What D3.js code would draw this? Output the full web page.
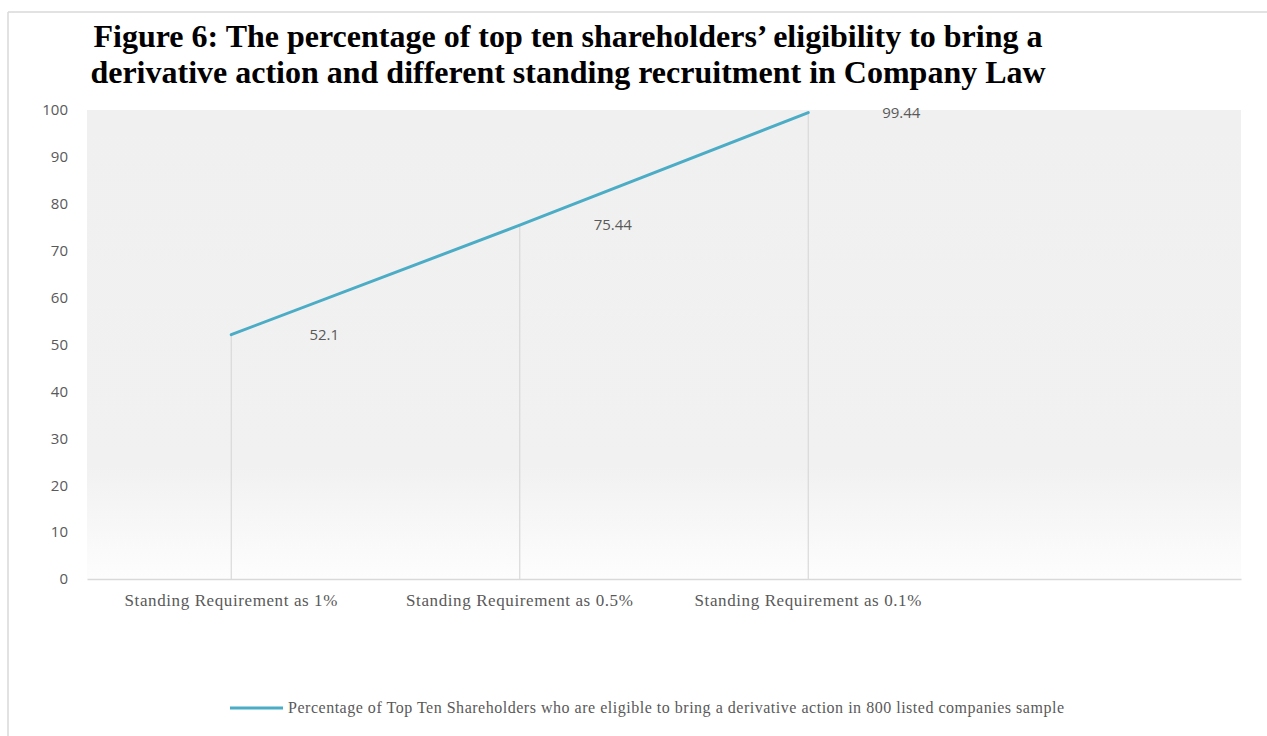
<!DOCTYPE html>
<html>
<head>
<meta charset="utf-8">
<script src="https://cdn.jsdelivr.net/npm/d3@7"></script>
<style>
  html, body { margin: 0; padding: 0; background: #ffffff; }
  svg { display: block; }
</style>
</head>
<body>
<svg id="chart" width="1267" height="736"></svg>
<script>
// Category slots along the x axis (the last slot is left blank)
const categories = [
  "Standing Requirement as 1%",
  "Standing Requirement as 0.5%",
  "Standing Requirement as 0.1%",
  ""
];
// Share of top ten shareholders eligible at each standing requirement (%)
const eligibleShare = [52.1, 75.44, 99.44];
const yTicks = [0, 10, 20, 30, 40, 50, 60, 70, 80, 90, 100];
const titleLines = [
  "Figure 6: The percentage of top ten shareholders\u2019 eligibility to bring a",
  "derivative action and different standing recruitment in Company Law"
];
const seriesName = "Percentage of Top Ten Shareholders who are eligible to bring a derivative action in 800 listed companies sample";

const svg = d3.select("#chart");
const W = 1267, H = 736;
const plot = { left: 87, right: 1241, top: 110, bottom: 579 };

const lineColor = "#4bacc6";
const textColor = "#595959";
const ruleColor = "#d9d9d9";
const serif = "'Liberation Serif', 'Times New Roman', serif";
const sans = "'Open Sans', 'Noto Sans', sans-serif";

// Outer frame (top and left edges)
svg.append("line").attr("x1", 8).attr("x2", W).attr("y1", 12).attr("y2", 12)
  .attr("stroke", ruleColor).attr("stroke-width", 1.5);
svg.append("line").attr("x1", 8).attr("x2", 8).attr("y1", 12).attr("y2", H)
  .attr("stroke", ruleColor).attr("stroke-width", 1.5);

// Title
svg.append("g").selectAll("text").data(titleLines).join("text")
  .attr("x", 568).attr("y", (d, i) => 47 + i * 36)
  .attr("text-anchor", "middle")
  .attr("font-family", serif).attr("font-weight", "bold")
  .attr("font-size", 32).attr("fill", "#000")
  .text(d => d);

const x = d3.scaleBand().domain(categories.map((c, i) => i))
  .range([plot.left, plot.right]);
const y = d3.scaleLinear().domain([0, 100]).range([plot.bottom, plot.top]);
const cx = i => x(i) + x.bandwidth() / 2;

// Plot-area background: flat grey that fades out toward the baseline
const defs = svg.append("defs");
const grad = defs.append("linearGradient").attr("id", "plotFill")
  .attr("x1", 0).attr("y1", 0).attr("x2", 0).attr("y2", 1);
grad.append("stop").attr("offset", "0").attr("stop-color", "#f0f0f0");
grad.append("stop").attr("offset", "0.76").attr("stop-color", "#f1f1f1");
grad.append("stop").attr("offset", "1").attr("stop-color", "#fdfdfd");
svg.append("rect")
  .attr("x", plot.left).attr("y", y(100))
  .attr("width", plot.right - plot.left).attr("height", y(0) - y(100))
  .attr("fill", "url(#plotFill)");

// Y axis: labels only
const yAxis = svg.append("g")
  .attr("transform", `translate(${plot.left},0)`)
  .call(d3.axisLeft(y).tickValues(yTicks).tickSize(0).tickPadding(19));
yAxis.select(".domain").remove();
yAxis.selectAll("text")
  .attr("font-family", sans).attr("font-size", 15).attr("fill", textColor);

// Drop lines from each point to the baseline
svg.append("g").selectAll("line").data(eligibleShare).join("line")
  .attr("x1", (d, i) => cx(i)).attr("x2", (d, i) => cx(i))
  .attr("y1", d => y(d)).attr("y2", y(0))
  .attr("stroke", ruleColor).attr("stroke-width", 1.2);

// X axis baseline and category labels
const xAxis = svg.append("g")
  .attr("transform", `translate(0,${plot.bottom})`)
  .call(d3.axisBottom(x).tickSize(0).tickPadding(15).tickFormat(i => categories[i]));
xAxis.select(".domain").attr("stroke", ruleColor).attr("stroke-width", 1.5);
xAxis.selectAll("text")
  .attr("font-family", serif).attr("font-size", 17).attr("fill", textColor)
  .attr("letter-spacing", "0.6px");

// Series line
const line = d3.line().x((d, i) => cx(i)).y(d => y(d));
svg.append("path").datum(eligibleShare)
  .attr("d", line)
  .attr("fill", "none").attr("stroke", lineColor).attr("stroke-width", 3)
  .attr("stroke-linecap", "round");

// Value labels
svg.append("g").selectAll("text").data(eligibleShare).join("text")
  .attr("x", (d, i) => cx(i) + 93).attr("y", d => y(d))
  .attr("dy", "0.35em").attr("text-anchor", "middle")
  .attr("font-family", sans).attr("font-size", 15).attr("fill", textColor)
  .text(d => d);

// Legend
const legend = svg.append("g").attr("transform", "translate(230,708)");
legend.append("line").attr("x1", 0).attr("x2", 53).attr("y1", 0).attr("y2", 0)
  .attr("stroke", lineColor).attr("stroke-width", 3);
legend.append("text").attr("x", 58).attr("y", 0).attr("dy", "0.33em")
  .attr("font-family", serif).attr("font-size", 16).attr("fill", textColor)
  .attr("textLength", 776).attr("lengthAdjust", "spacing")
  .text(seriesName);
</script>
</body>
</html>
